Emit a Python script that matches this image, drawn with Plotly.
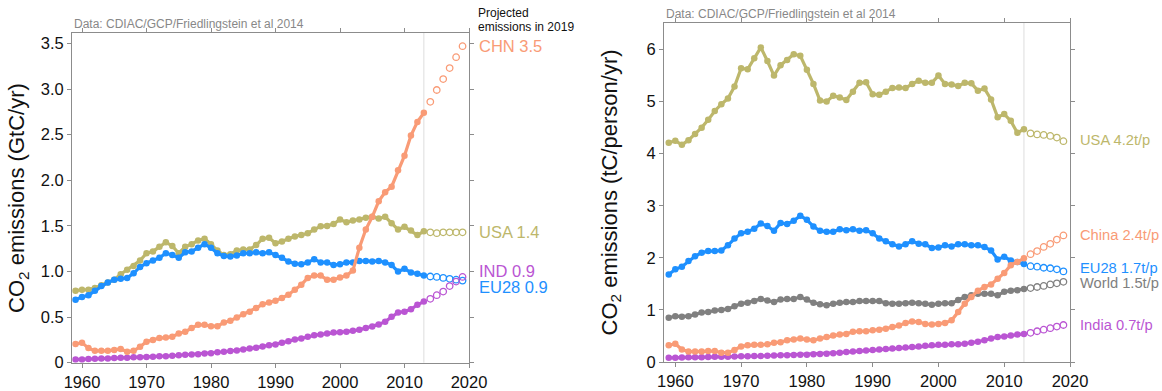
import plotly.graph_objects as go

# ---------------------------------------------------------------- data
years = list(range(1959, 2014))
proj_years = list(range(2014, 2020))

# Territorial fossil CO2 emissions, GtC/yr (1959-2013), and projection to 2019
usa_tot = [0.79, 0.80, 0.80, 0.82, 0.85, 0.88, 0.91, 0.97, 1.02, 1.06, 1.12, 1.20, 1.22, 1.27, 1.32,
           1.28, 1.20, 1.27, 1.30, 1.34, 1.36, 1.30, 1.23, 1.18, 1.19, 1.23, 1.24, 1.24, 1.29, 1.36,
           1.37, 1.31, 1.33, 1.36, 1.385, 1.40, 1.42, 1.46, 1.495, 1.50, 1.52, 1.57, 1.54, 1.56, 1.57,
           1.59, 1.60, 1.58, 1.60, 1.53, 1.46, 1.49, 1.45, 1.40, 1.44]
usa_tot_proj = [1.43, 1.42, 1.43, 1.43, 1.43, 1.43]

eu_tot = [0.69, 0.72, 0.74, 0.79, 0.84, 0.88, 0.91, 0.92, 0.93, 0.98, 1.05, 1.09, 1.12, 1.15, 1.20,
          1.18, 1.15, 1.21, 1.22, 1.26, 1.30, 1.26, 1.20, 1.17, 1.165, 1.175, 1.20, 1.20, 1.21, 1.20,
          1.21, 1.18, 1.15, 1.11, 1.085, 1.08, 1.10, 1.135, 1.10, 1.10, 1.07, 1.08, 1.10, 1.10, 1.115,
          1.115, 1.11, 1.115, 1.10, 1.07, 1.00, 1.03, 0.99, 0.975, 0.955]
eu_tot_proj = [0.945, 0.94, 0.93, 0.92, 0.91, 0.90]

chn_tot = [0.205, 0.22, 0.16, 0.13, 0.13, 0.13, 0.14, 0.15, 0.12, 0.13, 0.175, 0.23, 0.25, 0.27, 0.275,
           0.285, 0.32, 0.34, 0.38, 0.415, 0.415, 0.40, 0.40, 0.44, 0.46, 0.495, 0.53, 0.56, 0.60, 0.64,
           0.66, 0.68, 0.71, 0.745, 0.80, 0.855, 0.93, 0.955, 0.955, 0.91, 0.91, 0.935, 0.955, 1.01, 1.26,
           1.46, 1.60, 1.77, 1.87, 1.93, 2.11, 2.27, 2.49, 2.64, 2.74]
chn_tot_proj = [2.86, 2.99, 3.11, 3.23, 3.35, 3.47]

ind_tot = [0.035, 0.036, 0.040, 0.043, 0.046, 0.047, 0.051, 0.053, 0.055, 0.059, 0.061, 0.063, 0.066,
           0.070, 0.072, 0.076, 0.082, 0.087, 0.091, 0.094, 0.100, 0.104, 0.114, 0.120, 0.128, 0.135,
           0.145, 0.155, 0.165, 0.177, 0.190, 0.20, 0.218, 0.236, 0.255, 0.265, 0.284, 0.30, 0.31, 0.32,
           0.33, 0.335, 0.34, 0.35, 0.36, 0.38, 0.396, 0.42, 0.45, 0.505, 0.55, 0.56, 0.585, 0.635, 0.67]
ind_tot_proj = [0.70, 0.74, 0.78, 0.84, 0.89, 0.94]

# Per-capita emissions, tC/person/yr
usa_pc = [4.21, 4.25, 4.17, 4.26, 4.38, 4.50, 4.65, 4.82, 4.95, 5.06, 5.29, 5.64, 5.62, 5.83, 6.04,
          5.78, 5.50, 5.70, 5.80, 5.91, 5.88, 5.61, 5.34, 5.02, 5.00, 5.11, 5.08, 5.03, 5.19, 5.36,
          5.37, 5.14, 5.13, 5.19, 5.26, 5.27, 5.26, 5.34, 5.40, 5.36, 5.36, 5.50, 5.34, 5.33, 5.30,
          5.36, 5.35, 5.21, 5.25, 5.04, 4.70, 4.76, 4.63, 4.40, 4.47]
usa_pc_proj = [4.39, 4.37, 4.36, 4.34, 4.31, 4.24]

eu_pc = [1.68, 1.78, 1.83, 1.94, 2.03, 2.10, 2.13, 2.13, 2.14, 2.24, 2.37, 2.47, 2.50, 2.56, 2.66,
         2.61, 2.52, 2.67, 2.65, 2.71, 2.81, 2.73, 2.60, 2.52, 2.50, 2.50, 2.55, 2.53, 2.55, 2.52,
         2.53, 2.47, 2.37, 2.32, 2.26, 2.22, 2.26, 2.32, 2.27, 2.26, 2.19, 2.20, 2.24, 2.22, 2.26,
         2.26, 2.24, 2.24, 2.21, 2.14, 1.97, 2.02, 1.95, 1.92, 1.88]
eu_pc_proj = [1.84, 1.83, 1.81, 1.80, 1.78, 1.74]

world_pc = [0.85, 0.88, 0.87, 0.88, 0.91, 0.95, 0.96, 0.99, 1.00, 1.02, 1.07, 1.12, 1.14, 1.17, 1.21,
            1.18, 1.15, 1.20, 1.21, 1.21, 1.25, 1.20, 1.14, 1.11, 1.09, 1.12, 1.14, 1.15, 1.15, 1.17,
            1.17, 1.17, 1.17, 1.13, 1.12, 1.12, 1.13, 1.14, 1.13, 1.12, 1.10, 1.12, 1.13, 1.13, 1.19,
            1.25, 1.28, 1.31, 1.31, 1.31, 1.28, 1.35, 1.37, 1.38, 1.40]
world_pc_proj = [1.42, 1.44, 1.46, 1.49, 1.51, 1.54]

chn_pc = [0.32, 0.35, 0.24, 0.20, 0.20, 0.20, 0.21, 0.21, 0.18, 0.18, 0.23, 0.30, 0.32, 0.33, 0.33,
          0.34, 0.37, 0.38, 0.42, 0.43, 0.45, 0.43, 0.42, 0.45, 0.48, 0.51, 0.53, 0.54, 0.58, 0.59,
          0.59, 0.61, 0.62, 0.64, 0.67, 0.70, 0.75, 0.78, 0.77, 0.73, 0.72, 0.73, 0.75, 0.80, 0.96,
          1.12, 1.25, 1.37, 1.44, 1.49, 1.60, 1.71, 1.86, 1.92, 1.99]
chn_pc_proj = [2.07, 2.13, 2.21, 2.27, 2.35, 2.43]

ind_pc = [0.08, 0.08, 0.085, 0.09, 0.09, 0.09, 0.095, 0.10, 0.10, 0.10, 0.105, 0.11, 0.11, 0.115, 0.115,
          0.12, 0.125, 0.13, 0.13, 0.135, 0.14, 0.14, 0.15, 0.155, 0.16, 0.17, 0.18, 0.19, 0.20, 0.21,
          0.22, 0.23, 0.24, 0.25, 0.26, 0.27, 0.28, 0.29, 0.30, 0.31, 0.32, 0.33, 0.33, 0.34, 0.34,
          0.35, 0.37, 0.39, 0.42, 0.45, 0.48, 0.49, 0.51, 0.53, 0.54]
ind_pc_proj = [0.56, 0.59, 0.62, 0.65, 0.68, 0.71]

x_ticks = [1960, 1970, 1980, 1990, 2000, 2010, 2020]
y1_ticks = [0, 0.5, 1.0, 1.5, 2.0, 2.5, 3.0, 3.5]
y1_ticktext = ["0", "0.5", "1.0", "1.5", "2.0", "2.5", "3.0", "3.5"]
y2_ticks = [0, 1, 2, 3, 4, 5, 6]

# ---------------------------------------------------------------- style
FONT = "Liberation Sans, Arial, Helvetica, sans-serif"
C_CHN = "#F99B76"
C_USA = "#BDB76B"
C_EU = "#1E90FF"
C_IND = "#BA55D3"
C_WLD = "#808080"
AXIS_C = "#8c8c8c"
W, H = 1162, 391

fig = go.Figure()


def add_series(xa, ya, hist, proj, color):
    fig.add_trace(go.Scatter(
        x=years, y=hist, mode="lines+markers", xaxis=xa, yaxis=ya,
        line=dict(color=color, width=3.2), marker=dict(size=6.5, color=color),
        showlegend=False, hoverinfo="skip"))
    fig.add_trace(go.Scatter(
        x=proj_years, y=proj, mode="markers", xaxis=xa, yaxis=ya,
        marker=dict(symbol="circle-open", size=6.5, color=color,
                    line=dict(width=1.3, color=color)),
        showlegend=False, hoverinfo="skip"))


# left panel: total emissions
add_series("x", "y", usa_tot, usa_tot_proj, C_USA)
add_series("x", "y", eu_tot, eu_tot_proj, C_EU)
add_series("x", "y", ind_tot, ind_tot_proj, C_IND)
add_series("x", "y", chn_tot, chn_tot_proj, C_CHN)

# right panel: per-capita emissions
add_series("x2", "y2", usa_pc, usa_pc_proj, C_USA)
add_series("x2", "y2", world_pc, world_pc_proj, C_WLD)
add_series("x2", "y2", ind_pc, ind_pc_proj, C_IND)
add_series("x2", "y2", eu_pc, eu_pc_proj, C_EU)
add_series("x2", "y2", chn_pc, chn_pc_proj, C_CHN)

axis_common = dict(
    showline=True, linecolor=AXIS_C, linewidth=1, mirror="ticks",
    ticks="outside", ticklen=4, tickcolor=AXIS_C, tickwidth=1,
    showgrid=False, zeroline=False, automargin=False,
    tickfont=dict(family=FONT, size=16.5, color="#111111"),
)

fig.update_layout(
    width=W, height=H, autosize=False,
    margin=dict(l=0, r=0, t=0, b=0, autoexpand=False),
    paper_bgcolor="white", plot_bgcolor="white",
    font=dict(family=FONT),
    xaxis=dict(domain=[72 / W, 469 / W], range=[1958.45, 2020], tickvals=x_ticks,
               anchor="y", **axis_common),
    yaxis=dict(domain=[1 - 362.7 / H, 1 - 33 / H], range=[0, 3.615], tickvals=y1_ticks,
               ticktext=y1_ticktext, anchor="x", **axis_common),
    xaxis2=dict(domain=[664 / W, 1070 / W], range=[1958.28, 2020], tickvals=x_ticks,
                anchor="y2", **axis_common),
    yaxis2=dict(domain=[1 - 362 / H, 1 - 22.7 / H], range=[0, 6.515], tickvals=y2_ticks,
                anchor="x2", **axis_common),
)

# marker separating observed from projected years
for xr, yr in (("x", "y domain"), ("x2", "y2 domain")):
    fig.add_shape(type="line", xref=xr, yref=yr, x0=2013, x1=2013, y0=0, y1=1,
                  line=dict(color="#dddddd", width=1), layer="below")


def note(text, x, y, size, color, xref="paper", yref="paper", xanchor="left", angle=0, dy=0):
    fig.add_annotation(text=text, x=x, y=y, xref=xref, yref=yref, showarrow=False,
                       xanchor=xanchor, yanchor="middle", textangle=angle, yshift=dy,
                       font=dict(family=FONT, size=size, color=color))


# axis titles
note("CO<sub>2</sub> emissions (GtC/yr)", 18 / W, 1 - 198 / H, 22, "#111111",
     xanchor="center", angle=-90)
note("CO<sub>2</sub> emissions (tC/person/yr)", 610 / W, 1 - 192.5 / H, 22, "#111111",
     xanchor="center", angle=-90)

# source lines
note("Data: CDIAC/GCP/Friedlingstein et al 2014", 72 / W, 1 - 22.7 / H, 12, "#888888", dy=-1)
note("Data: CDIAC/GCP/Friedlingstein et al 2014", 664 / W, 1 - 12.7 / H, 12, "#888888", dy=-1)

# projection header
note("Projected", 475.5 / W, 1 - 12.3 / H, 12, "#111111", dy=-1)
note("emissions in 2019", 475.5 / W, 1 - 26 / H, 12, "#111111", dy=-1)

# end-of-line labels, left panel
left_labels = [("CHN 3.5", 3.47, C_CHN), ("USA 1.4", 1.43, C_USA),
               ("IND 0.9", 1.01, C_IND), ("EU28 0.9", 0.83, C_EU)]
for txt, yv, col in left_labels:
    note(txt, 1 + 8 / 397, yv, 16.5, col, xref="x domain", yref="y")

# end-of-line labels, right panel
right_labels = [("USA 4.2t/p", 4.26, C_USA), ("China 2.4t/p", 2.43, C_CHN),
                ("EU28 1.7t/p", 1.80, C_EU), ("World 1.5t/p", 1.51, C_WLD),
                ("India 0.7t/p", 0.705, C_IND)]
for txt, yv, col in right_labels:
    note(txt, 1 + 8 / 406, yv, 14.7, col, xref="x2 domain", yref="y2")

fig.write_html("out.html")
